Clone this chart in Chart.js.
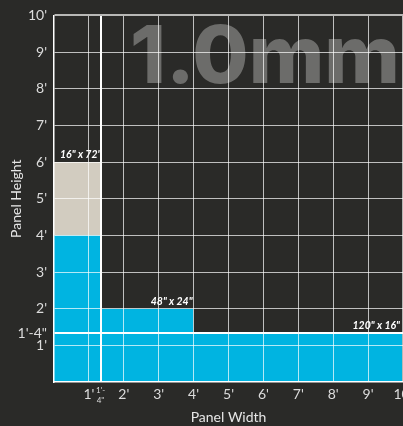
<!DOCTYPE html>
<html>
<head>
<meta charset="utf-8">
<script src="https://cdn.jsdelivr.net/npm/chart.js@4"></script>
<style>
  html, body { margin: 0; padding: 0; background: #2a2a28; overflow: hidden; }
  #wrap { width: 403px; height: 426px; }
</style>
</head>
<body>
<div id="wrap"><canvas id="panelChart"></canvas></div>
<script>
// panel sizes, in inches
var panelWidths = [16, 16, 48, 120];
var panelHeights = [72, 48, 24, 16];
var panelNames = ['16" x 72"', '', '48" x 24"', '120" x 16"'];

// axis ticks, in feet
var tickValues = [1, 4 / 3, 2, 3, 4, 5, 6, 7, 8, 9, 10];
var yTickLabels = ["1'", "1'-4\"", "2'", "3'", "4'", "5'", "6'", "7'", "8'", "9'", "10'"];
var xTickLabels = ["1'", ["1'-", "4\""], "2'", "3'", "4'", "5'", "6'", "7'", "8'", "9'", "10'"];

var BLUE = '#00b4e1';
var BEIGE = '#d2ccc0';

var datasets = panelWidths.map(function (w, i) {
  return {
    label: panelNames[i],
    data: [{ x: 0, y: panelHeights[i] / 12 }, { x: w / 12, y: panelHeights[i] / 12 }],
    backgroundColor: i === 0 ? BEIGE : BLUE,
    borderWidth: 0,
    pointRadius: 0,
    fill: 'origin',
    order: i === 0 ? 10 : i
  };
});

function isSplit(v) { return Math.abs(v - 4 / 3) < 0.001; }

function setTicks(scale) {
  scale.ticks = tickValues.map(function (v) { return { value: v }; });
}

function gridColor(ctx) {
  var v = ctx.tick && ctx.tick.value;
  if (isSplit(v)) return '#ffffff';
  if (v === 10) return '#b8b8b6';
  return 'rgba(255,255,255,0.7)';
}
function gridWidth(ctx) {
  var v = ctx.tick && ctx.tick.value;
  if (isSplit(v) || v === 10) return 2;
  return 1;
}

var extras = {
  id: 'extras',
  beforeDatasetsDraw: function (chart) {
    var c = chart.ctx;
    c.save();
    c.fillStyle = '#6c6c6a';
    c.font = '800 80px Inter';
    c.textBaseline = 'alphabetic';
    var txt = '1.0mm';
    var w = c.measureText(txt).width;
    c.translate(130, 83);
    c.scale(270 / w, 1);
    c.fillText(txt, 0, 0);
    c.restore();
  },
  afterDraw: function (chart) {
    var c = chart.ctx, xs = chart.scales.x, ys = chart.scales.y;
    c.save();
    c.fillStyle = '#ffffff';
    c.font = 'italic bold 10.5px Lato';
    c.textBaseline = 'alphabetic';
    panelNames.forEach(function (name, i) {
      if (!name) return;
      var top = ys.getPixelForValue(panelHeights[i] / 12);
      if (i === 0) {
        c.textAlign = 'left';
        c.fillText(name, xs.getPixelForValue(0) + 6, top - 4);
      } else {
        c.textAlign = 'right';
        c.fillText(name, Math.min(xs.getPixelForValue(panelWidths[i] / 12) - 1, chart.width - 3), top - 4);
      }
    });
    c.restore();
  }
};

new Chart(document.getElementById('panelChart'), {
  type: 'line',
  data: { datasets: datasets },
  plugins: [extras],
  options: {
    responsive: true,
    maintainAspectRatio: false,
    animation: false,
    layout: { padding: { top: 12, right: 0, bottom: 0, left: 0 } },
    plugins: { legend: { display: false }, tooltip: { enabled: false } },
    scales: {
      x: {
        type: 'linear',
        min: 0,
        max: 10,
        afterBuildTicks: setTicks,
        afterFit: function (scale) { scale.height = 44; scale.paddingRight = 0; scale.paddingLeft = 0; },
        grid: { color: gridColor, lineWidth: gridWidth, drawTicks: false, z: 1 },
        border: { color: '#ffffff', width: 1.5, z: 2 },
        ticks: {
          autoSkip: false,
          maxRotation: 0,
          padding: 4,
          color: '#dcdcdc',
          font: function (ctx) {
            return isSplit(ctx.tick && ctx.tick.value) ? { family: 'Lato', size: 8 } : { family: 'Lato', size: 14 };
          },
          callback: function (v, i) { return xTickLabels[i]; }
        },
        title: {
          display: true,
          text: 'Panel Width',
          color: '#e6e6e6',
          font: { family: 'Lato', size: 14 },
          padding: { top: 0, bottom: 0 }
        }
      },
      y: {
        type: 'linear',
        min: 0,
        max: 10,
        afterBuildTicks: setTicks,
        afterFit: function (scale) { scale.width = 54; },
        grid: { color: gridColor, lineWidth: gridWidth, drawTicks: false, z: 1 },
        border: { color: '#ffffff', width: 1.5, z: 2 },
        ticks: {
          autoSkip: false,
          padding: 7,
          color: '#dcdcdc',
          font: { family: 'Lato', size: 14 },
          callback: function (v, i) { return yTickLabels[i]; }
        },
        title: {
          display: true,
          text: 'Panel Height',
          color: '#e6e6e6',
          font: { family: 'Lato', size: 14 },
          padding: { top: 8, bottom: 0 }
        }
      }
    }
  }
});
</script>
</body>
</html>
